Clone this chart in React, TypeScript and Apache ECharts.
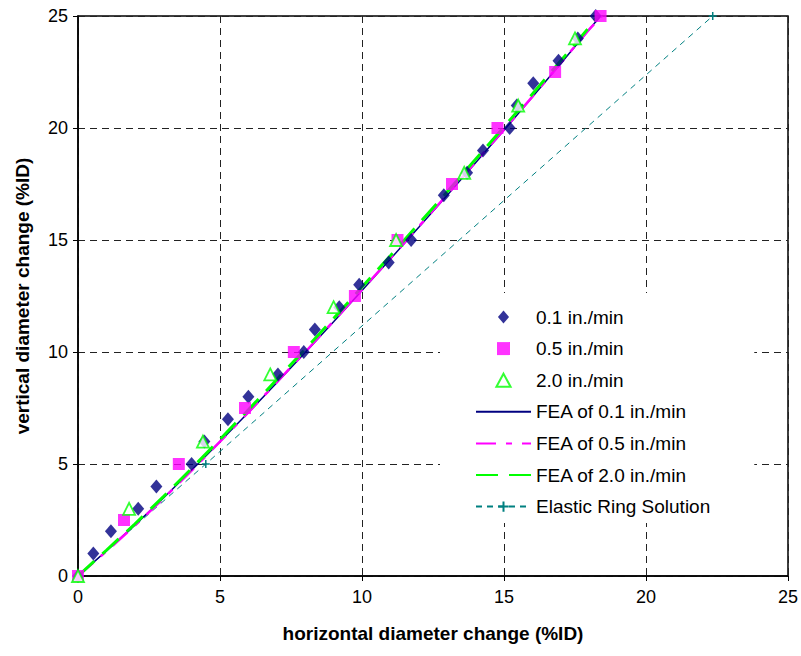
import React, { useEffect, useRef } from "react";
import * as echarts from "echarts";

const s01X = [0, 0.54, 1.16, 2.12, 2.76, 4.0, 4.45, 5.28, 6.0, 7.04, 7.95, 8.34, 9.2, 9.9, 10.94, 11.73, 12.88, 13.7, 14.26, 15.2, 15.45, 16.03, 16.92, 17.6, 18.23];
const s01Y = [0, 1, 2, 3, 4, 5, 6, 7, 8, 9, 10, 11, 12, 13, 14, 15, 17, 18, 19, 20, 21, 22, 23, 24, 25];

const s05X = [0, 1.62, 3.55, 5.88, 7.6, 9.75, 11.25, 13.17, 14.77, 16.8, 18.4];
const s05Y = [0, 2.5, 5, 7.5, 10, 12.5, 15, 17.5, 20, 22.5, 25];

const s20X = [0, 1.8, 4.4, 6.77, 9.0, 11.2, 13.6, 15.5, 17.5];
const s20Y = [0, 3, 6, 9, 12, 15, 18, 21, 24];

const fea01X = [0, 1, 2, 3, 4, 5, 6, 7, 8, 9, 10, 11, 12, 13, 14, 15, 16, 17, 18, 18.4];
const fea01Y = [0, 1.12, 2.27, 3.47, 4.72, 6.0, 7.3, 8.63, 9.98, 11.35, 12.75, 14.15, 15.57, 17.0, 18.45, 19.9, 21.38, 22.88, 24.4, 25];

const fea05X = [0, 1, 2, 3, 4, 5, 6, 7, 8, 9, 10, 11, 12, 13, 14, 15, 16, 17, 18, 18.45];
const fea05Y = [0, 1.1, 2.25, 3.45, 4.7, 6.0, 7.3, 8.65, 10.0, 11.38, 12.78, 14.18, 15.6, 17.03, 18.48, 19.93, 21.4, 22.9, 24.4, 25];

const fea20X = [0, 1, 2, 3, 4, 5, 6, 7, 8, 9, 10, 11, 12, 13, 14, 15, 16, 17, 18, 18.3];
const fea20Y = [0, 1.15, 2.32, 3.53, 4.8, 6.1, 7.42, 8.77, 10.12, 11.5, 12.9, 14.3, 15.72, 17.15, 18.6, 20.05, 21.52, 23.0, 24.5, 25];

const elasticX = [0, 4.5, 22.35];
const elasticY = [0, 5, 25];

const names = [
  "0.1 in./min",
  "0.5 in./min",
  "2.0 in./min",
  "FEA of 0.1 in./min",
  "FEA of 0.5 in./min",
  "FEA of 2.0 in./min",
  "Elastic Ring Solution",
];

const pairs = (xs: number[], ys: number[]) => xs.map((x, i) => [x, ys[i]]);

const FONT = "'Liberation Sans', Arial, sans-serif";

export default function App() {
  const ref = useRef<HTMLDivElement>(null);
  useEffect(() => {
    if (!ref.current) return;
    const chart = echarts.init(ref.current, null, { renderer: "svg" });
    const gridLine = { show: true, lineStyle: { color: "#222", width: 1, type: [7, 5] as any } };
    const hideSym = { opacity: 0 };
    chart.setOption({
      animation: false,
      backgroundColor: "#fff",
      textStyle: { fontFamily: FONT },
      grid: {
        left: 78,
        right: 12,
        top: 16,
        bottom: 80,
        show: true,
        borderColor: "#000",
        borderWidth: 1.5,
        backgroundColor: "transparent",
      },
      legend: {
        orient: "vertical",
        left: 440,
        top: 293,
        padding: [14.5, 44, 7, 35],
        backgroundColor: "#fff",
        itemWidth: 55,
        itemHeight: 13,
        itemGap: 12.6,
        symbolKeepAspect: true,
        data: [
          { name: names[0], icon: "path://M6,0L12,7L6,14L0,7Z" },
          { name: names[1], icon: "path://M0,0L10,0L10,10L0,10Z" },
          { name: names[2], icon: "path://M6,0L12,11L0,11Z" },
          { name: names[3], itemStyle: hideSym },
          { name: names[4], itemStyle: hideSym },
          { name: names[5], itemStyle: hideSym },
          { name: names[6] },
        ],
        textStyle: { fontSize: 19, color: "#000", fontFamily: FONT },
      },
      xAxis: {
        type: "value",
        min: 0,
        max: 25,
        interval: 5,
        name: "horizontal diameter change (%ID)",
        nameLocation: "middle",
        nameGap: 48,
        nameTextStyle: { fontSize: 19, fontWeight: "bold", color: "#000", fontFamily: FONT },
        axisLine: { show: true, lineStyle: { color: "#000", width: 1.5 } },
        axisTick: { show: true, inside: false, length: 5, lineStyle: { color: "#000" } },
        axisLabel: { fontSize: 18, color: "#000", margin: 12, fontFamily: FONT },
        splitLine: gridLine,
      },
      yAxis: {
        type: "value",
        min: 0,
        max: 25,
        interval: 5,
        name: "vertical diameter change (%ID)",
        nameLocation: "middle",
        nameGap: 46,
        nameTextStyle: { fontSize: 19, fontWeight: "bold", color: "#000", fontFamily: FONT },
        axisLine: { show: true, lineStyle: { color: "#000", width: 1.5 } },
        axisTick: { show: true, inside: false, length: 5, lineStyle: { color: "#000" } },
        axisLabel: { fontSize: 18, color: "#000", margin: 10, fontFamily: FONT },
        splitLine: gridLine,
      },
      series: [
        {
          name: names[0],
          type: "scatter",
          z: 5,
          symbol: "diamond",
          symbolSize: [12, 14],
          itemStyle: { color: "#000080" },
          data: pairs(s01X, s01Y),
        },
        {
          name: names[1],
          type: "scatter",
          z: 5,
          symbol: "rect",
          symbolSize: 12,
          itemStyle: { color: "#FF00FF" },
          data: pairs(s05X, s05Y),
        },
        {
          name: names[2],
          type: "scatter",
          z: 6,
          symbol: "triangle",
          symbolSize: 12,
          itemStyle: { color: "#fff", borderColor: "#00FF00", borderWidth: 1.8 },
          data: pairs(s20X, s20Y),
        },
        {
          name: names[3],
          type: "line",
          z: 3,
          showSymbol: false,
          symbol: "none",
          lineStyle: { color: "#000080", width: 1.5, type: "solid" },
          itemStyle: { color: "#000080" },
          data: pairs(fea01X, fea01Y),
        },
        {
          name: names[4],
          type: "line",
          z: 3,
          showSymbol: false,
          symbol: "none",
          lineStyle: { color: "#FF00FF", width: 2.5, type: [20, 10, 6, 10] as any },
          itemStyle: { color: "#FF00FF" },
          data: pairs(fea05X, fea05Y),
        },
        {
          name: names[5],
          type: "line",
          z: 3,
          showSymbol: false,
          symbol: "none",
          lineStyle: { color: "#00FF00", width: 3, type: [22, 11] as any },
          itemStyle: { color: "#00FF00" },
          data: pairs(fea20X, fea20Y),
        },
        {
          name: names[6],
          type: "line",
          z: 2,
          symbol: "path://M5,0L5,10M0,5L10,5",
          symbolSize: 8,
          showAllSymbol: true,
          lineStyle: { color: "#008080", width: 1, type: [6, 5] as any },
          itemStyle: { color: "none", borderColor: "#008080", borderWidth: 1.5 },
          data: pairs(elasticX, elasticY),
        },
      ],
    });
    return () => chart.dispose();
  }, []);
  return (
    <div
      ref={ref}
      style={{ position: "fixed", left: 0, top: 0, width: 801, height: 656, background: "#fff" }}
    />
  );
}
